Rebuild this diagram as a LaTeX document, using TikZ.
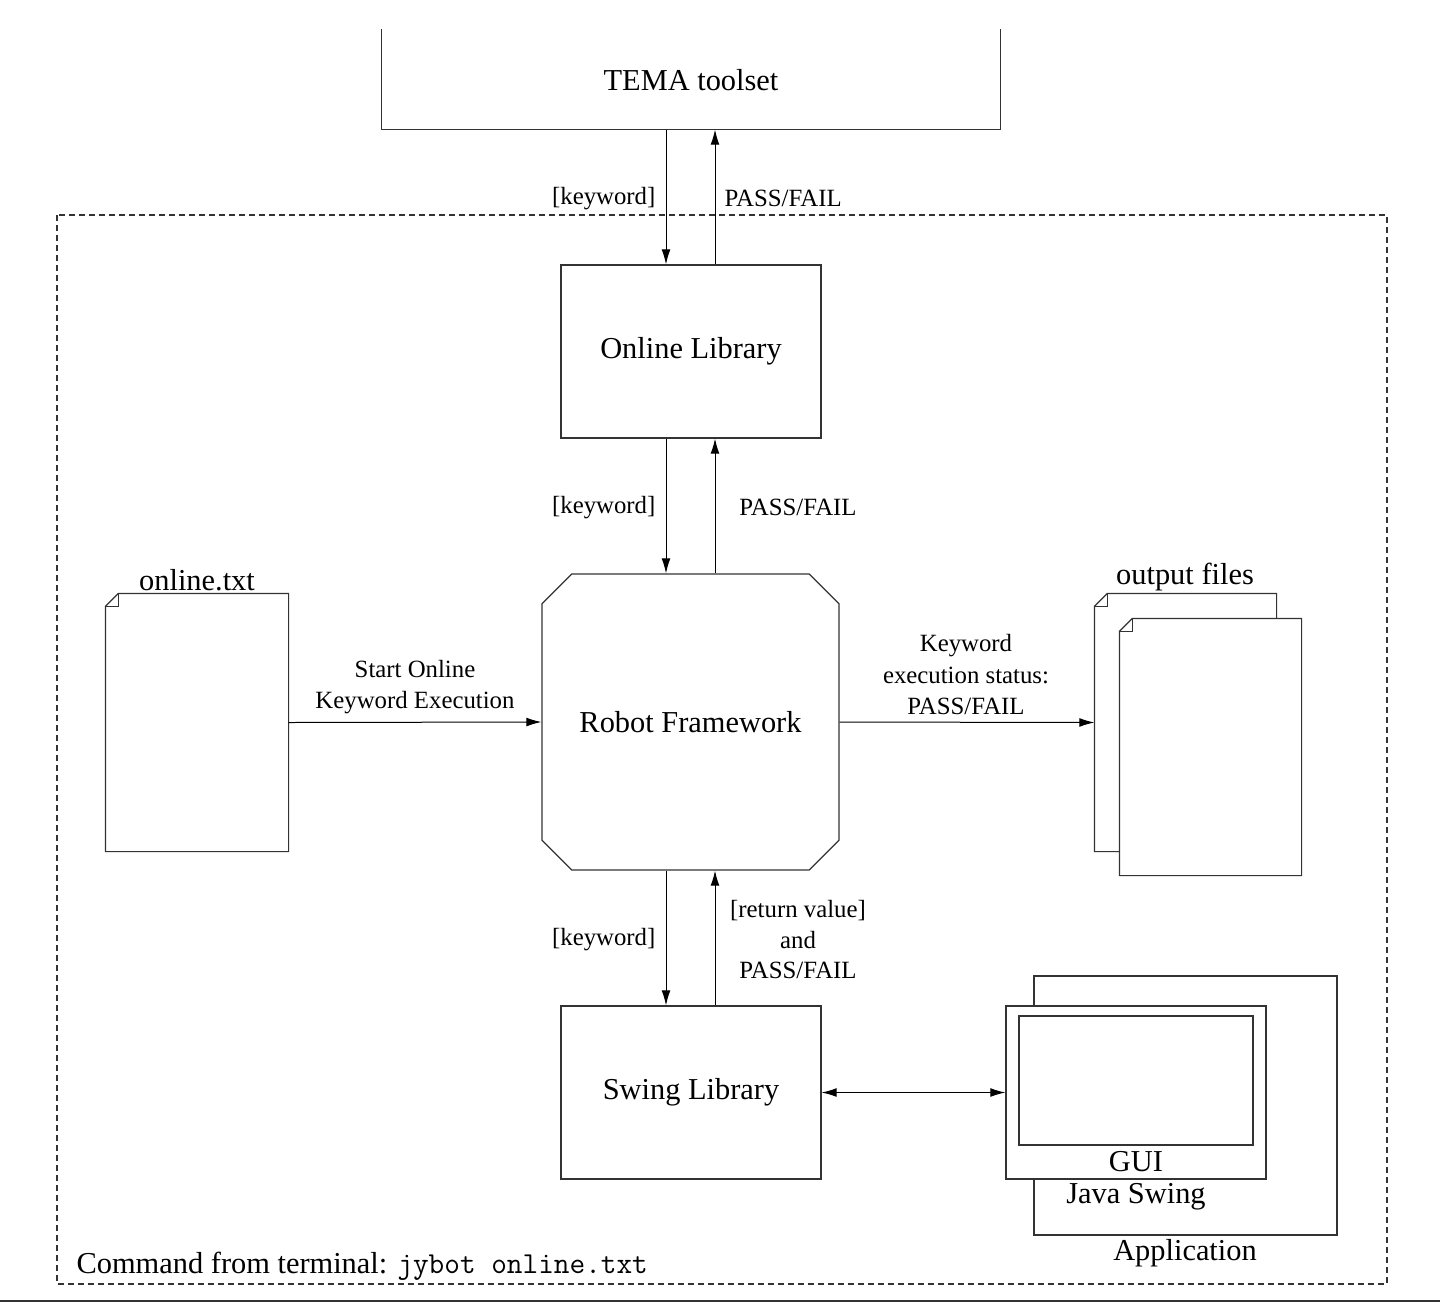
\documentclass[tikz,border=0pt]{standalone}
\usepackage{fontspec}
\setmainfont{Liberation Serif}
\usetikzlibrary{arrows.meta,shapes.misc,calc}
\begin{document}
\begin{tikzpicture}[x=0.5pt,y=-0.5pt,line width=0.6pt,
  box/.style={draw=black!80, fill=white, rectangle, inner sep=0pt, font=\fontsize{15.2}{18}\selectfont},
  ghost/.style={rectangle, inner sep=0pt},
  big/.style={font=\fontsize{15.2}{18}\selectfont, inner sep=0pt, anchor=base},
  small/.style={font=\fontsize{12.4}{15}\selectfont, inner sep=0pt, anchor=base},
  arr/.style={draw=black, line width=0.5pt, -{Latex[length=7.5pt,width=4.4pt]}},
  darr/.style={draw=black, line width=0.5pt, {Latex[length=7.5pt,width=4.4pt]}-{Latex[length=7.5pt,width=4.4pt]}},
  docline/.style={draw=black!80, fill=white},
  frame/.style={draw=black!80, dash pattern=on 3pt off 2pt}]
\useasboundingbox (0,0) rectangle (1440,1302);
\fill[black!80] (0,1299.5) rectangle (1440,1302);

% dashed frame
\draw[frame] (57,215) rectangle (1387,1284);

% TEMA toolset (open top)
\node[ghost, minimum width=309pt, minimum height=49.5pt] (tema) at (691,79.5) {};
\draw[draw=black!80] (tema.north west) -- (tema.south west) -- (tema.south east) -- (tema.north east);
\node[big] (tematext) at (691,90) {TEMA toolset};

% main boxes
\node[box, minimum width=130pt, minimum height=86.5pt] (ol) at (691,351.5) {Online Library};
\node[box, chamfered rectangle, chamfered rectangle xsep=9.5pt, chamfered rectangle ysep=9.5pt,
      minimum width=148.5pt, minimum height=148pt] (rf) at (690.5,722) {Robot Framework};
\node[box, minimum width=130pt, minimum height=86.5pt] (sw) at (691,1092.5) {Swing Library};

% arrow columns
\coordinate (kx) at (666,0);
\coordinate (px) at (715,0);

\draw[arr] (tema.south -| kx) -- (ol.north -| kx);
\draw[arr] (ol.north -| px) -- (tema.south -| px);
\node[small, anchor=base east] (l1) at (656,204) {[keyword]};
\node[small, anchor=base west] (l2) at (724,206) {PASS/FAIL};

\draw[arr] (ol.south -| kx) -- (rf.north -| kx);
\draw[arr] (rf.north -| px) -- (ol.south -| px);
\node[small, anchor=base east] (l3) at (656,513) {[keyword]};
\node[small] (l4) at (798,515) {PASS/FAIL};

\draw[arr] (rf.south -| kx) -- (sw.north -| kx);
\draw[arr] (sw.north -| px) -- (rf.south -| px);
\node[small, anchor=base east] (l5) at (656,945) {[keyword]};
\node[small] (l6) at (798,917) {[return value]};
\node[small] (l7) at (798,948) {and};
\node[small] (l8) at (798,978) {PASS/FAIL};

% online.txt document
\node[ghost, minimum width=91pt, minimum height=128.5pt] (d1) at (197,722.5) {};
\draw[docline] ($(d1.north west)+(0,13)$) -- ($(d1.north west)+(13,0)$) -- (d1.north east) -- (d1.south east) -- (d1.south west) -- cycle;
\draw[draw=black!80] ($(d1.north west)+(0,13)$) -| ($(d1.north west)+(13,0)$);
\node[big] (d1lab) at (197,590) {online.txt};

\draw[arr] (d1.east) -- (rf.west);
\node[small] (l9) at (415,677) {Start Online};
\node[small] (l10) at (415,708) {Keyword Execution};

% output files
\node[ghost, minimum width=90.5pt, minimum height=128.5pt] (d2) at (1185.5,722.5) {};
\draw[docline] ($(d2.north west)+(0,13)$) -- ($(d2.north west)+(13,0)$) -- (d2.north east) -- (d2.south east) -- (d2.south west) -- cycle;
\draw[draw=black!80] ($(d2.north west)+(0,13)$) -| ($(d2.north west)+(13,0)$);
\node[ghost, minimum width=90.5pt, minimum height=128pt] (d3) at (1210.5,747) {};
\draw[docline] ($(d3.north west)+(0,13)$) -- ($(d3.north west)+(13,0)$) -- (d3.north east) -- (d3.south east) -- (d3.south west) -- cycle;
\draw[draw=black!80] ($(d3.north west)+(0,13)$) -| ($(d3.north west)+(13,0)$);
\node[big] (d2lab) at (1185,584) {output files};

\draw[arr] (rf.east) -- (d2.west);
\node[small] (l11) at (966,651) {Keyword};
\node[small] (l12) at (966,683) {execution status:};
\node[small] (l13) at (966,714) {PASS/FAIL};

% application
\node[box, minimum width=151.5pt, minimum height=129.5pt] (app) at (1185.5,1105.5) {};
\node[box, minimum width=130pt, minimum height=86.5pt] (java) at (1136,1092.5) {};
\node[box, minimum width=117pt, minimum height=64.5pt] (gui) at (1136,1080.5) {};
\node[big] (guilab) at (1136,1171) {GUI};
\node[big] (javalab) at (1136,1203) {Java Swing};
\node[big] (applab) at (1185,1260) {Application};

\draw[darr] (sw.east) -- (java.west);

% command
\node[big, anchor=base west] (cmd) at (76,1273) {Command from terminal: \texttt{jybot online.txt}};
\end{tikzpicture}
\end{document}
